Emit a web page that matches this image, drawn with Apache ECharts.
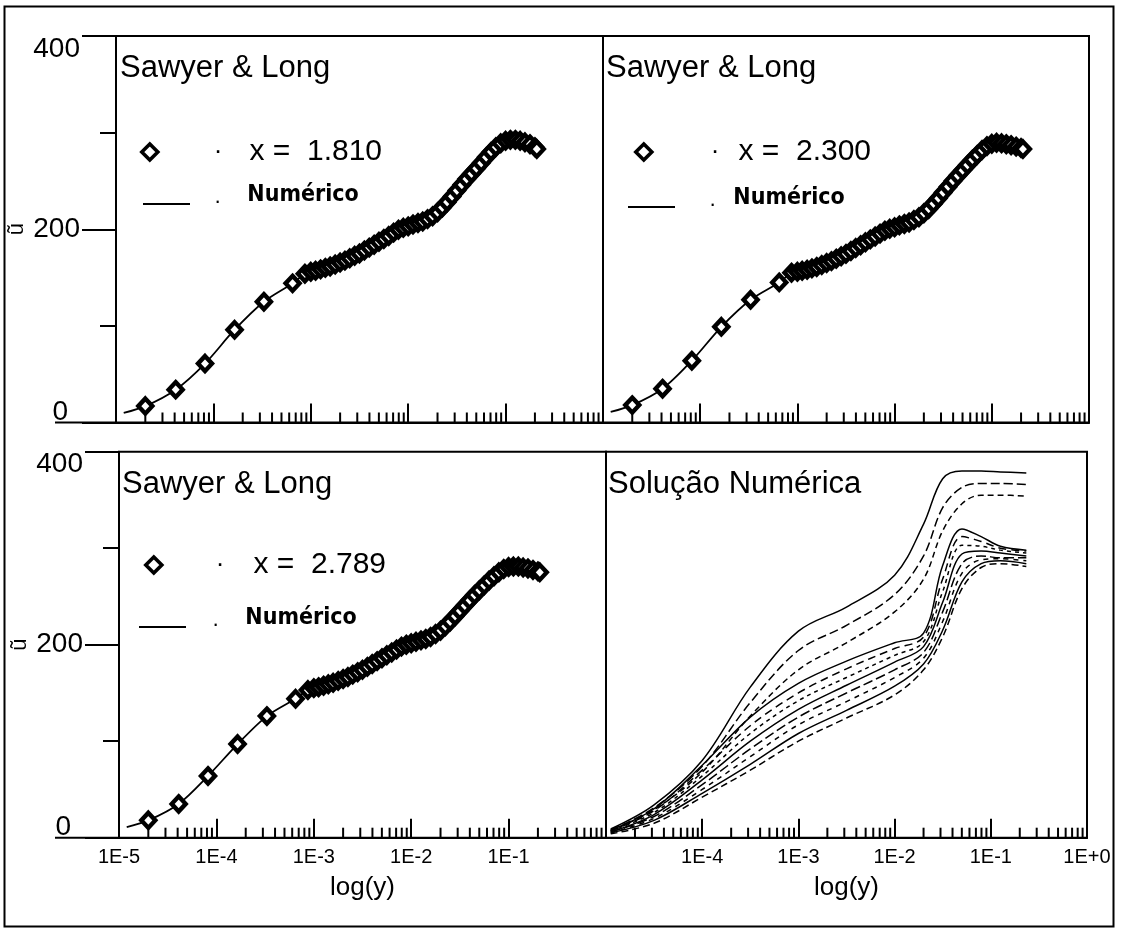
<!DOCTYPE html>
<html><head><meta charset="utf-8">
<script src="https://cdn.jsdelivr.net/npm/echarts@6/dist/echarts.min.js"></script>
<style>html,body{margin:0;padding:0;background:#fff}#c{width:1129px;height:932px}</style>
</head><body><div id="c"></div>
<script>
// ---------- data ----------
// y positions (log axis) of the measured points (shared by the three "Sawyer & Long" panels)
const sampleY = [2.0e-5, 4.1e-5, 8.2e-5, 1.65e-4, 3.3e-4, 6.5e-4, 8.7e-4,
  1.00e-3, 1.12e-3, 1.26e-3, 1.41e-3, 1.58e-3, 1.78e-3, 2.00e-3, 2.24e-3, 2.51e-3, 2.82e-3,
  3.16e-3, 3.55e-3, 3.98e-3, 4.47e-3, 5.01e-3, 5.62e-3, 6.31e-3, 7.08e-3, 7.94e-3, 8.91e-3,
  1.00e-2, 1.12e-2, 1.26e-2, 1.41e-2, 1.58e-2, 1.78e-2, 2.00e-2, 2.24e-2, 2.51e-2, 2.82e-2,
  3.16e-2, 3.55e-2, 3.98e-2, 4.47e-2, 5.01e-2, 5.62e-2, 6.31e-2, 7.08e-2, 7.94e-2, 8.91e-2,
  0.100, 0.112, 0.126, 0.141, 0.158, 0.178, 0.200, 0.209];
const uTL = [17, 34, 61, 96, 125, 144, 154,
  156, 157, 158.5, 160, 161.5, 163.5, 165.5, 167.5, 170, 172.5,
  175, 178, 181, 184, 187, 190, 193, 196.5, 199.5, 201.5,
  203, 205, 206.5, 208, 210.5, 213.5, 217.5, 222.5, 228, 234,
  240, 246, 252, 257.5, 263, 268.5, 274.5, 280, 285, 289,
  291.5, 292.5, 292.5, 291.5, 290, 288, 285, 283];
const uTR = [18, 35, 64, 99, 127, 145, 155,
  156, 157, 158, 159.5, 161, 163, 165, 167, 169.5, 172,
  174.5, 177.5, 180.5, 183.5, 186.5, 189.5, 192.5, 195.5, 198.5, 200.5,
  202, 204, 205.5, 207, 209.5, 212.5, 216.5, 221, 226.5, 232,
  238, 244, 250, 255.5, 261, 266.5, 272, 277, 282, 286,
  288.5, 289.5, 289, 288, 287, 285.5, 284, 283];
const uBL = [18, 35, 64, 97, 126, 144, 153,
  155, 156, 157.5, 159, 160.5, 162.5, 164.5, 166.5, 169, 171.5,
  174, 177, 180, 183, 186, 189, 192, 195, 198, 200,
  201.5, 203, 204.5, 206, 208, 211, 214.5, 219, 224, 229.5,
  235, 240.5, 246, 251.5, 256.5, 261.5, 266.5, 271, 275, 278.5,
  280.5, 281, 281, 280, 279, 277.5, 276, 275];
// start of each numerical curve [y, u]
const numStartTL = [1.2e-5, 10];
const numStartTR = [1.2e-5, 11];
const numStartBL = [1.2e-5, 11];

// "Solução Numérica": family of numerical profiles
const solY = [1.12e-5, 3.16e-5, 1.0e-4, 3.16e-4, 1.0e-3, 3.16e-3, 1.0e-2, 2.0e-2, 3.16e-2, 5.01e-2, 7.94e-2, 0.126, 0.234];
const solA = [9, 34, 80, 156, 214, 239, 272, 325, 372, 380, 380, 379, 378];
const solB = [8, 31, 74, 140, 194, 220, 252, 292, 342, 363, 367, 367, 366];
const solC = [7, 29, 68, 126, 174, 202, 234, 268, 318, 346, 355, 355, 354];
const solD = [8, 30, 75, 125, 160, 183, 202, 212, 282, 320, 312, 302, 298];
const solE = [7, 28, 70, 116, 150, 175, 196, 208, 268, 312, 307, 300, 297];
const solF = [7, 26, 64, 108, 142, 166, 189, 203, 255, 303, 302, 298, 295];
const solG = [6, 24, 60, 100, 133, 158, 182, 198, 244, 294, 297, 295, 292];
const solH = [6, 22, 55, 92, 125, 150, 174, 192, 234, 284, 292, 290, 290];
const solI = [5, 20, 50, 84, 117, 141, 166, 186, 224, 274, 288, 289, 287];
const solJ = [5, 18, 46, 76, 108, 132, 157, 180, 215, 265, 284, 287, 284];
const solK = [4, 15, 42, 70, 100, 124, 148, 174, 208, 258, 280, 284, 281];

// tick labels
const xTickLabelsLeft = ['1E-5', '1E-4', '1E-3', '1E-2', '1E-1', ''];
const xTickLabelsRight = ['', '1E-4', '1E-3', '1E-2', '1E-1', '1E+0'];
const yTickValues = [0, 200, 400];
const yTickLabels = ['0', '200', '400'];
const minorMantissas = [2, 3, 4, 5, 6, 7, 8, 9];
const decades = [1e-5, 1e-4, 1e-3, 1e-2, 1e-1];
const panelTitles = ['Sawyer & Long', 'Sawyer & Long', 'Sawyer & Long', 'Solução Numérica'];
const legendNames = ['x = 1.810', 'x = 2.300', 'x = 2.789'];

// ---------- build ----------
const FONT = "'Liberation Sans', Arial, Helvetica, sans-serif";
const NARROW = "'Liberation Sans Narrow', 'Arial Narrow', 'DejaVu Sans Condensed', sans-serif";
const minorTicks = [];
decades.forEach(d => minorMantissas.forEach(m => minorTicks.push([m * d, 0])));

const grids = [
  {left: 116, top: 36, width: 487, height: 386.5},
  {left: 603, top: 36, width: 486, height: 386.5},
  {left: 119, top: 451.7, width: 487, height: 386},
  {left: 606, top: 451.7, width: 481, height: 386}
].map(g => Object.assign(g, {show: true, borderColor: '#000', borderWidth: 2, backgroundColor: 'transparent', containLabel: false}));

const xAxes = grids.map((g, i) => ({
  type: 'log', logBase: 10, min: 1e-5, max: 1, gridIndex: i,
  axisLine: {show: true, lineStyle: {color: '#000', width: 2}},
  axisTick: {show: true, inside: true, length: 19, lineStyle: {color: '#000', width: 2}},
  axisLabel: {
    show: i >= 2, showMinLabel: true, showMaxLabel: true, margin: 10,
    color: '#000', fontSize: 20, fontFamily: FONT,
    formatter: v => {
      const k = Math.round(Math.log10(v)) + 5;
      return (i === 2 ? xTickLabelsLeft : xTickLabelsRight)[k] || '';
    }
  },
  splitLine: {show: false},
  name: i >= 2 ? 'log(y)' : '', nameLocation: 'middle', nameGap: 37,
  nameTextStyle: {color: '#000', fontSize: 26, fontFamily: FONT}
}));

const yAxes = grids.map((g, i) => {
  const left = (i === 0 || i === 2);
  return {
    type: 'value', min: 0, max: 400, interval: 200, gridIndex: i,
    axisLine: {show: true, lineStyle: {color: '#000', width: 2}},
    axisTick: {show: left, length: 34, lineStyle: {color: '#000', width: 2}},
    minorTick: {show: left, splitNumber: 2, length: 16, lineStyle: {color: '#000', width: 2}},
    splitLine: {show: false},
    axisLabel: {
      show: left, margin: 36,
      formatter: v => {
        const k = yTickValues.indexOf(v);
        if (k < 0) return '';
        const key = k === 0 ? 'b' : (k === 2 ? 't' : 'm');
        return '{' + key + '|' + yTickLabels[k] + '}';
      },
      rich: {
        b: {color: '#000', fontSize: 28, fontFamily: FONT, padding: [0, 12, 20, 0]},
        m: {color: '#000', fontSize: 28, fontFamily: FONT},
        t: {color: '#000', fontSize: 28, fontFamily: FONT, padding: [26, 0, 0, 0]}
      }
    },
    name: left ? 'ũ' : '', nameLocation: 'middle', nameRotate: 90, nameGap: 88,
    nameTextStyle: {color: '#000', fontSize: 22, fontFamily: FONT}
  };
});

function pairs(xs, ys) { return xs.map((x, k) => [x, ys[k]]); }

const series = [];
const sets = [[uTL, numStartTL], [uTR, numStartTR], [uBL, numStartBL]];
sets.forEach((s, i) => {
  series.push({
    type: 'line', name: 'Numérico', xAxisIndex: i, yAxisIndex: i,
    data: [s[1]].concat(pairs(sampleY, s[0])), smooth: 0.3,
    symbol: 'none', showSymbol: false, z: 2,
    lineStyle: {color: '#000', width: 1.8}, itemStyle: {color: '#000'}
  });
  series.push({
    type: 'scatter', name: legendNames[i], xAxisIndex: i, yAxisIndex: i,
    data: pairs(sampleY, s[0]), symbol: 'diamond', symbolSize: [14, 15], z: 3,
    itemStyle: {color: '#fff', borderColor: '#000', borderWidth: 4.4, opacity: 1}
  });
});
const solCurves = [solA, solB, solC, solD, solE, solF, solG, solH, solI, solJ, solK];
const solTypes = ['solid', [9, 4], [6, 4], 'solid', [8, 5], [4, 4], 'solid', [10, 4], [5, 5], 'solid', [7, 4]];
solCurves.forEach((c, k) => series.push({
  type: 'line', name: 'Solução ' + (k + 1), xAxisIndex: 3, yAxisIndex: 3,
  data: pairs(solY, c), smooth: 0.35, symbol: 'none', showSymbol: false,
  lineStyle: {color: '#000', width: 1.5, type: solTypes[k]}
}));
grids.forEach((g, i) => series.push({
  type: 'custom', name: 'minor' + i, xAxisIndex: i, yAxisIndex: i, silent: true, z: 1,
  data: minorTicks,
  renderItem: (params, api) => {
    const p = api.coord([api.value(0), 0]);
    return {type: 'line', shape: {x1: p[0], y1: p[1], x2: p[0], y2: p[1] - 10},
      style: {stroke: '#000', lineWidth: 2}};
  }
}));

function diamondLegend(name, left, top, padDot, padText) {
  return {
    data: [{name: name, icon: 'diamond'}], left: left, top: top, padding: 0,
    orient: 'vertical', itemWidth: 16, itemHeight: 16, selectedMode: false,
    itemStyle: {color: '#fff', borderColor: '#000', borderWidth: 3.6, opacity: 1},
    formatter: n => '{d|·}{t|' + n.replace('= ', '=  ') + '}',
    textStyle: {
      lineHeight: 32,
      rich: {
        d: {fontSize: 26, fontFamily: FONT, color: '#000', padding: [0, 0, 0, padDot]},
        t: {fontSize: 30, fontFamily: FONT, color: '#000', padding: [0, 0, 0, padText]}
      }
    }
  };
}
function lineLegend(left, top, padDot, padText) {
  return {
    data: [{name: 'Numérico', icon: 'rect'}], left: left, top: top, padding: 0,
    orient: 'vertical', itemWidth: 47, itemHeight: 2, selectedMode: false,
    itemStyle: {color: '#000', borderWidth: 0, opacity: 1},
    formatter: n => '{d|·}{t|' + n + '}',
    textStyle: {
      lineHeight: 26, padding: [0, 0, 18, 0],
      rich: {
        d: {fontSize: 22, fontFamily: FONT, color: '#000', padding: [14, 0, 0, padDot]},
        t: {fontSize: 23, fontFamily: NARROW, fontWeight: 'bold', color: '#000', padding: [0, 0, 0, padText]}
      }
    }
  };
}

const option = {
  animation: false,
  backgroundColor: '#fff',
  title: [
    {text: panelTitles[0], left: 120, top: 53},
    {text: panelTitles[1], left: 606, top: 53},
    {text: panelTitles[2], left: 122, top: 469},
    {text: panelTitles[3], left: 608, top: 469}
  ].map(t => Object.assign(t, {padding: 0, textStyle: {color: '#000', fontSize: 31, fontWeight: 'normal', fontFamily: FONT}})),
  legend: [
    diamondLegend(legendNames[0], 140, 136, 51, 27),
    lineLegend(143, 182, 19, 26),
    diamondLegend(legendNames[1], 634, 136, 54, 19),
    lineLegend(628, 185, 29, 17),
    diamondLegend(legendNames[2], 144, 549, 49, 29),
    lineLegend(139, 605, 21, 26)
  ],
  grid: grids,
  xAxis: xAxes,
  yAxis: yAxes,
  series: series,
  graphic: [
    {type: 'rect', shape: {x: 4.5, y: 6.5, width: 1109, height: 920}, style: {fill: 'none', stroke: '#000', lineWidth: 2}, silent: true},
    {type: 'line', shape: {x1: 55, y1: 422.5, x2: 116, y2: 422.5}, style: {stroke: '#000', lineWidth: 2}, silent: true},
    {type: 'line', shape: {x1: 55, y1: 837.7, x2: 119, y2: 837.7}, style: {stroke: '#000', lineWidth: 2}, silent: true}
  ]
};
const chart = echarts.init(document.getElementById('c'), null, {renderer: 'canvas'});
chart.setOption(option);
</script></body></html>
